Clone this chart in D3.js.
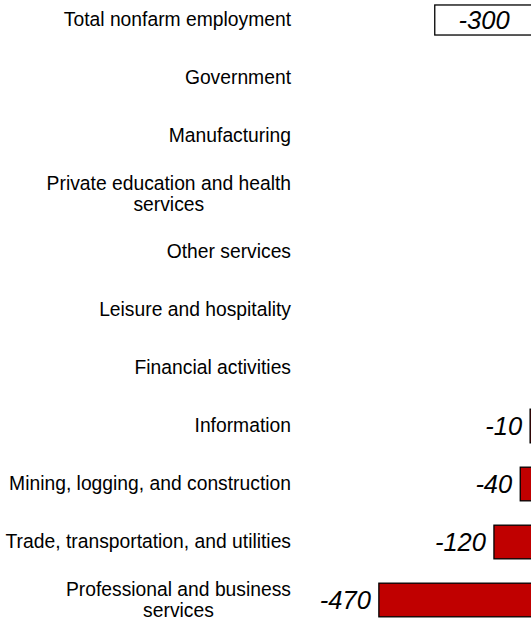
<!DOCTYPE html>
<html>
<head>
<meta charset="utf-8">
<script src="https://cdn.jsdelivr.net/npm/d3@7"></script>
<style>
    body { margin: 0; background: #ffffff; }
    .frame { display: block; font-family: "Liberation Sans", Arial, sans-serif; }
</style>
</head>
<body>
<div id="vis"></div>
<script>
const frame_height = 624;
const frame_width = 531;

// categories top to bottom, change in jobs (thousands)
const categories = [
    "Total nonfarm employment",
    "Government",
    "Manufacturing",
    "Private education and health services",
    "Other services",
    "Leisure and hospitality",
    "Financial activities",
    "Information",
    "Mining, logging, and construction",
    "Trade, transportation, and utilities",
    "Professional and business services"
];
// positive bars sit off the right edge and can't be read -> null
const values = [-300, null, null, null, null, null, null, -10, -40, -120, -470];
const value_labels = ["-300", "", "", "", "", "", "", "-10", "-40", "-120", "-470"];

const data = categories.map((c, i) => {return {category: c, value: values[i], label: value_labels[i]};});

const frame =
d3.select("#vis")
    .append("svg")
        .attr("height", frame_height)
        .attr("width", frame_width)
        .attr("class", "frame");

// zero line falls just past the right edge of the picture
const x_scale =
d3.scaleLinear()
    .domain([-500, 0])
    .range([369, 533.4]);

const y_scale =
d3.scaleBand()
    .domain(categories)
    .range([-9, 629])
    .paddingInner(0.42)
    .paddingOuter(0.21);

const bars = data.filter((d) => {return d.value !== null;});

frame.selectAll(".bar")
    .data(bars)
    .enter()
    .append("rect")
        .attr("class", "bar")
        .attr("x", (d) => {return x_scale(Math.min(0, d.value))})
        .attr("y", (d) => {
            const inset = (d.category === categories[0]) ? 1.8 : 0;
            return y_scale(d.category) + inset;
        })
        .attr("width", (d) => {return Math.abs(x_scale(d.value) - x_scale(0))})
        .attr("height", (d) => {
            const inset = (d.category === categories[0]) ? 3.6 : 0;
            return y_scale.bandwidth() - inset;
        })
        .attr("fill", (d) => {return d.category === categories[0] ? "#ffffff" : "#c00000"})
        .attr("stroke", "#000000")
        .attr("stroke-width", 1.3);

// value labels: inside the total bar, left of the others
frame.selectAll(".value")
    .data(bars)
    .enter()
    .append("text")
        .attr("class", "value")
        .attr("x", (d) => {
            if (d.category === categories[0]) {
                return (x_scale(d.value) + x_scale(0)) / 2;
            }
            return x_scale(d.value) - 8;
        })
        .attr("y", (d) => {return y_scale(d.category) + y_scale.bandwidth() / 2})
        .attr("dy", "0.36em")
        .attr("text-anchor", (d) => {return d.category === categories[0] ? "middle" : "end"})
        .attr("font-size", "25.5px")
        .attr("font-style", "italic")
        .attr("fill", "#000000")
        .text((d) => {return d.label});

// category labels, wrapped when too long; wrapped lines are centred on each other
const label_right = 291;
const max_width = 290;
const line_height = 20.5;

const labels = frame.selectAll(".cat")
    .data(data)
    .enter()
    .append("text")
        .attr("class", "cat")
        .attr("font-size", "19.3px")
        .attr("fill", "#000000");

labels.each(function(d) {
    const t = d3.select(this);
    const words = d.category.split(" ");
    const lines = [];
    let line = [];
    const probe = t.append("tspan");
    words.forEach((w) => {
        line.push(w);
        probe.text(line.join(" "));
        if (probe.node().getComputedTextLength() > max_width && line.length > 1) {
            line.pop();
            lines.push(line.join(" "));
            line = [w];
        }
    });
    lines.push(line.join(" "));
    probe.remove();

    const widths = lines.map((l) => {
        const p = t.append("tspan").text(l);
        const w = p.node().getComputedTextLength();
        p.remove();
        return w;
    });
    const box = d3.max(widths);
    const cy = y_scale(d.category) + y_scale.bandwidth() / 2;
    const top = cy - (lines.length - 1) * line_height / 2;

    lines.forEach((l, i) => {
        t.append("tspan")
            .attr("x", lines.length > 1 ? label_right - box / 2 : label_right)
            .attr("y", top + i * line_height)
            .attr("dy", "0.33em")
            .attr("text-anchor", lines.length > 1 ? "middle" : "end")
            .text(l);
    });
});
</script>
</body>
</html>
